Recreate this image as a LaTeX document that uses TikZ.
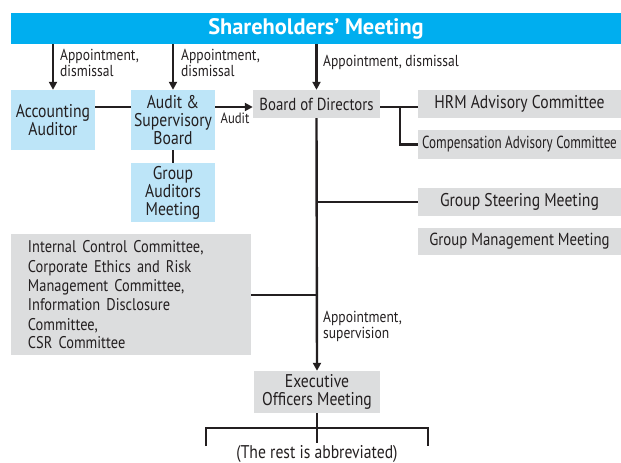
\documentclass[tikz,border=0pt]{standalone}
\usepackage{fontspec}
\setmainfont{PT Sans}[FakeStretch=0.85]
\newfontfamily\barfont{PT Sans}
\newfontfamily\narrowfont{PT Sans}[FakeStretch=0.75]
\usetikzlibrary{arrows.meta}
\definecolor{barblue}{HTML}{00AEEF}
\definecolor{lblue}{HTML}{BDE5F8}
\definecolor{lgray}{HTML}{DCDDDE}
\definecolor{ink}{HTML}{231F20}
\begin{document}
\begin{tikzpicture}[x=1bp,y=-1bp,
  box/.style={inner sep=0pt,align=center,font=\fontsize{18.5}{18}\selectfont,text=ink},
  bluebox/.style={box,fill=lblue},
  graybox/.style={box,fill=lgray},
  conn/.style={draw=ink,line width=2.4bp},
  arr/.style={conn,-{Triangle[length=8bp,width=8bp]}},
  lab/.style={font=\fontsize{16}{16}\selectfont,text=ink,align=left,inner sep=0pt}]
\useasboundingbox (0,0) rectangle (621,463);
\node[box,fill=barblue,minimum width=610bp,minimum height=31bp,text=white,font=\barfont\fontsize{22.5}{24}\selectfont\bfseries] (sh) at (316,28.5) {Shareholders’ Meeting};
\node[bluebox,minimum width=84bp,minimum height=60bp] (acc) at (53,120) {Accounting\\Auditor};
\node[bluebox,minimum width=84bp,minimum height=60bp] (asb) at (173,120) {Audit \&\\Supervisory\\Board};
\node[bluebox,minimum width=84bp,minimum height=59bp] (gam) at (173,192.5) {Group\\Auditors\\Meeting};
\node[graybox,minimum width=127bp,minimum height=28bp,font=\fontsize{17.5}{18}\selectfont] (bod) at (316.5,104) {Board of Directors};
\node[graybox,minimum width=203bp,minimum height=28bp] (hrm) at (519.5,104) {HRM Advisory Committee};
\node[graybox,minimum width=203bp,minimum height=29bp] (cac) at (519.5,144.5) {\narrowfont\fontsize{17.5}{18}\selectfont Compensation Advisory Committee};
\node[graybox,minimum width=203bp,minimum height=28bp] (gsm) at (519.5,202) {Group Steering Meeting};
\node[graybox,minimum width=203bp,minimum height=27bp,font=\fontsize{17.5}{18}\selectfont] (gmm) at (519.5,241.5) {Group Management Meeting};
\node[graybox,minimum width=240bp,minimum height=121bp,align=left,text width=206bp,inner xsep=0pt] (icc) at (131,294.5) {\fontsize{17}{19.5}\selectfont Internal Control Committee,\\Corporate Ethics and Risk\\Management Committee,\\Information Disclosure\\Committee,\\CSR Committee};
\node[graybox,minimum width=126bp,minimum height=42bp] (eom) at (317,392) {Executive\\Officers Meeting};
\node[box,font=\fontsize{18.5}{19}\selectfont] (rest) at (317,454) {(The rest is abbreviated)};
\coordinate (y1) at (0,107);
\coordinate (brl) at (206,428);
\coordinate (brr) at (428,428);
\coordinate (brl2) at (206,446);
\coordinate (brr2) at (428,446);
\coordinate (brc) at (317,443);
% arrows from shareholders
\draw[arr] (sh.south -| acc) -- (acc.north);
\draw[arr] (sh.south -| asb) -- (asb.north);
\draw[arr] (sh.south -| bod) -- (bod.north);
\node[lab,anchor=west] at (60,63) {Appointment,\\dismissal};
\node[lab,anchor=west] at (181,63) {Appointment,\\dismissal};
\node[lab,anchor=west] at (323,62) {Appointment, dismissal};
% auditor links
\draw[conn] (acc.east |- y1) -- (asb.west |- y1);
\draw[arr] (asb.east |- y1) -- (bod.west |- y1);
\node[lab,anchor=center,font=\fontsize{15}{15}\selectfont] at (235,118) {Audit};
\draw[conn] (asb.south) -- (gam.north);
% board to committees
\draw[conn] (bod.east |- y1) -- (hrm.west |- y1);
\draw[conn] (400,107) |- (cac.west);
% main trunk
\draw[arr] (bod.south) -- (eom.north);
\draw[conn] (bod.south |- gsm.west) -- (gsm.west);
\draw[conn] (icc.east |- 0,295) -- (bod.south |- 0,295);
\node[lab,anchor=west] at (323,326) {Appointment,\\supervision};
% bracket
\draw[conn] (eom.south) -- (brc);
\draw[conn] (brl2) -- (brl) -- (brr) -- (brr2);
\end{tikzpicture}
\end{document}
